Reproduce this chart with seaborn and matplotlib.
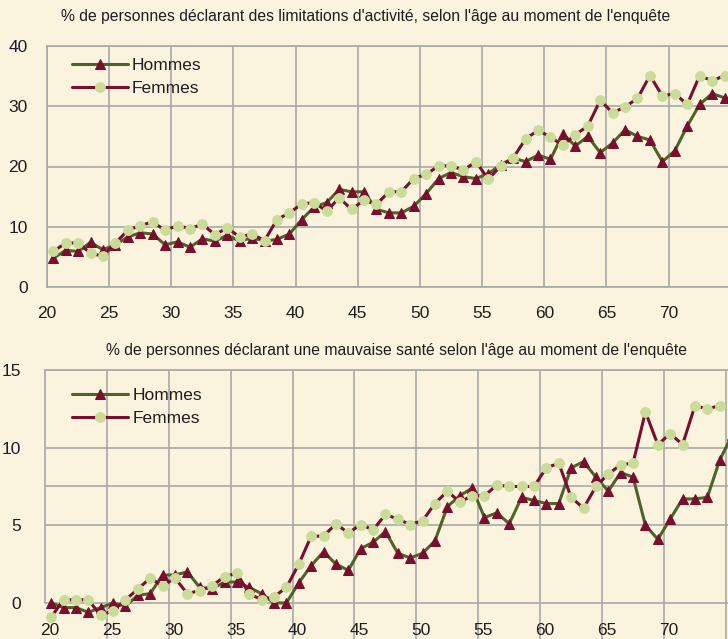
import numpy as np
import matplotlib
matplotlib.use("Agg")
import matplotlib.pyplot as plt
import seaborn as sns

# Données (âge au moment de l'enquête)
ages_lim = np.arange(20, 75)
hommes_lim = [4.75, 6.1, 5.9, 7.4, 6.2, 7.0, 8.3, 9.0, 8.8, 7.0,
              7.5, 6.6, 8.0, 7.6, 8.6, 7.6, 8.2, 7.6, 7.9, 8.8,
              11.2, 13.3, 14.0, 16.2, 15.8, 15.8, 12.9, 12.3, 12.3, 13.4,
              15.5, 18.0, 19.0, 18.3, 18.0, 18.8, 20.3, 21.4, 20.8, 21.9,
              21.2, 25.4, 23.4, 25.0, 22.3, 23.9, 26.1, 25.0, 24.4, 20.8,
              22.6, 26.7, 30.3, 32.1, 31.4]
femmes_lim = [5.9, 7.3, 7.3, 5.6, 5.1, 7.3, 9.4, 10.2, 10.8, 9.4,
              10.2, 9.7, 10.4, 8.7, 9.8, 8.3, 8.8, 7.7, 11.2, 12.3,
              13.8, 14.0, 12.6, 14.8, 12.9, 14.4, 13.7, 15.8, 15.8, 18.0,
              18.7, 20.1, 20.1, 19.4, 20.8, 17.9, 20.1, 21.4, 24.6, 26.0,
              24.9, 23.5, 25.3, 26.7, 31.0, 28.9, 29.9, 31.3, 35.1, 31.7,
              32.1, 30.3, 35.1, 34.2, 35.1]

ages_sante = np.arange(20, 76)
hommes_sante = [0.0, -0.3, -0.3, -0.6, -0.3, 0.0, -0.2, 0.5, 0.6, 1.8,
                1.8, 2.0, 1.0, 0.9, 1.35, 1.35, 1.0, 0.6, 0.0, 0.0,
                1.3, 2.4, 3.3, 2.5, 2.1, 3.5, 3.9, 4.6, 3.2, 2.9,
                3.2, 4.0, 6.2, 6.9, 7.4, 5.5, 5.8, 5.1, 6.8, 6.6,
                6.4, 6.4, 8.7, 9.1, 8.1, 7.2, 8.4, 8.1, 5.0, 4.1,
                5.4, 6.7, 6.7, 6.8, 9.2, 10.8]
femmes_sante = [-0.9, 0.2, 0.2, 0.2, -0.8, -0.5, 0.2, 0.9, 1.6, 1.1,
                1.6, 0.6, 0.8, 1.1, 1.7, 1.9, 0.6, 0.2, 0.4, 1.0,
                2.5, 4.3, 4.3, 5.1, 4.5, 5.05, 4.7, 5.7, 5.4, 5.05,
                5.3, 6.4, 7.2, 6.5, 6.9, 6.9, 7.6, 7.5, 7.5, 7.5,
                8.7, 9.0, 6.8, 6.1, 7.5, 8.3, 8.9, 9.0, 12.3, 10.2,
                10.9, 10.2, 12.7, 12.5, 12.7, np.nan]

titre_lim = "% de personnes déclarant des limitations d'activité, selon l'âge au moment de l'enquête"
titre_sante = "% de personnes déclarant une mauvaise santé selon l'âge au moment de l'enquête"

# Couleurs
bg = '#FAF4DF'
grid_c = '#A8A8A8'
vert = '#4F6228'
rouge = '#7A0E2E'
vert_clair = '#C9DD98'
txt = '#1E1E1E'

sns.set_style("white")
plt.rcParams['font.family'] = ['Liberation Sans', 'DejaVu Sans']
plt.rcParams['text.color'] = txt
plt.rcParams['xtick.labelcolor'] = txt
plt.rcParams['ytick.labelcolor'] = txt

fig = plt.figure(figsize=(7.28, 6.39), dpi=100, facecolor=bg)
W, H = 728, 639


def tracer(ax, ages, hommes, femmes):
    ax.set_facecolor(bg)
    ax.set_axisbelow(True)
    x = ages + 0.5
    sns.lineplot(x=x, y=hommes, ax=ax, color=vert, lw=2.2, marker='^',
                 markersize=7, markerfacecolor=rouge, markeredgecolor=rouge,
                 label='Hommes', zorder=3)
    sns.lineplot(x=x, y=femmes, ax=ax, color=rouge, lw=2.2, marker='o',
                 markersize=7, markerfacecolor=vert_clair, markeredgecolor=vert_clair,
                 label='Femmes', zorder=4)
    ax.grid(True, color=grid_c, lw=1.2)
    for s in ax.spines.values():
        s.set_color(grid_c)
        s.set_linewidth(1.2)
    ax.spines['right'].set_visible(False)


# -------------------------------
# 1. Limitations d'activité
ax1 = fig.add_axes([47 / W, 1 - 287 / H, 681 / W, 241 / H])
tracer(ax1, ages_lim, hommes_lim, femmes_lim)
ax1.set_xlim(20, 74.78)
ax1.set_ylim(0, 40)
ax1.set_xticks(range(20, 75, 5))
ax1.set_yticks(range(0, 41, 10))
ax1.tick_params(axis='both', length=5, color=grid_c, width=1.2, labelsize=12.5)
ax1.tick_params(axis='y', pad=9)
ax1.tick_params(axis='x', pad=9)
ax1.set_xlabel('')
ax1.set_ylabel('')
ax1.legend(loc='upper left', bbox_to_anchor=(0.037, 0.95), frameon=False,
           fontsize=12.5, handlelength=3.2, handletextpad=0.25,
           labelspacing=0.45, borderpad=0, borderaxespad=0)
fig.text(366 / W, 1 - 17 / H, titre_lim, ha='center', va='center', fontsize=11.3)

# -------------------------------
# 2. Mauvaise santé
ax2 = fig.add_axes([45 / W, 0, 683 / W, 269 / H])
tracer(ax2, ages_sante, hommes_sante, femmes_sante)
ax2.set_xlim(20, 75.17)
ax2.set_ylim(-2.32, 15)
ax2.set_xticks(range(25, 80, 5))
ax2.set_yticks(range(0, 16, 5))
ax2.set_xticklabels([])
ax2.tick_params(axis='x', length=0)
ax2.tick_params(axis='y', length=5, color=grid_c, width=1.2, labelsize=12.5, pad=12)
ax2.spines['bottom'].set_visible(False)
ax2.spines['left'].set_bounds(0, 15)
ax2.axhline(7.5, color=grid_c, lw=1.2, zorder=0.5)
ax2.set_xlabel('')
ax2.set_ylabel('')
for a in range(20, 75, 5):
    ax2.text(a + 0.4, -1.78, str(a), ha='center', va='center', fontsize=12.5)
ax2.legend(loc='upper left', bbox_to_anchor=(0.04, 0.935), frameon=False,
           fontsize=12.5, handlelength=3.2, handletextpad=0.25,
           labelspacing=0.45, borderpad=0, borderaxespad=0)
fig.text(397 / W, 1 - 350 / H, titre_sante, ha='center', va='center', fontsize=11.3)

fig.savefig("out.png", dpi=100, facecolor=bg)
